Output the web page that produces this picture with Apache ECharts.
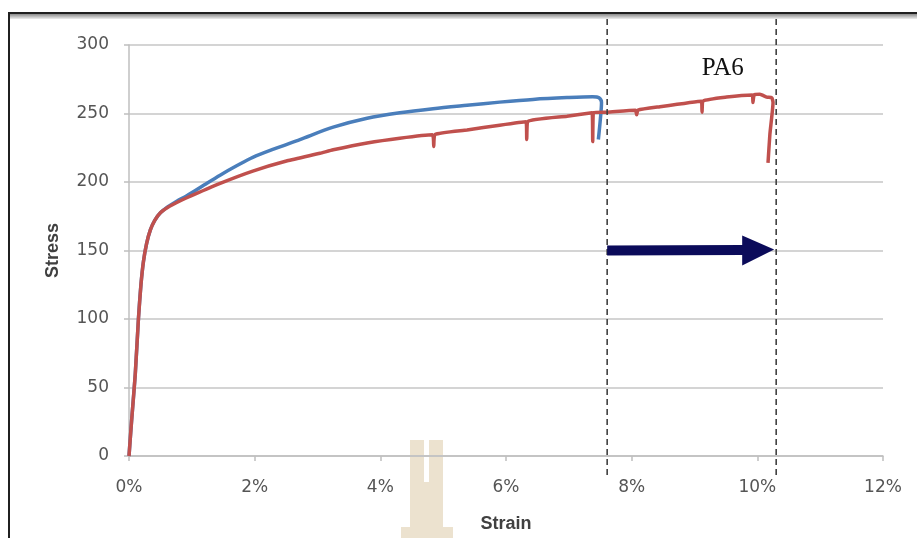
<!DOCTYPE html>
<html>
<head>
<meta charset="utf-8">
<script src="https://cdn.jsdelivr.net/npm/echarts@6/dist/echarts.min.js"></script>
<style>
html,body{margin:0;padding:0;background:#fff;}
#c{width:917px;height:538px;}
</style>
</head>
<body>
<div id="c"></div>
<script>
// ---- data (strain in %, stress) ----
var xTicks = [0, 2, 4, 6, 8, 10, 12];
var yTicks = [0, 50, 100, 150, 200, 250, 300];

var blueStrain = [0, 0.04, 0.1, 0.15, 0.19, 0.23, 0.28, 0.34, 0.41, 0.5, 0.62, 0.76, 0.92, 1.2, 1.45, 1.72, 1.97, 2.3, 2.72, 3.25, 3.79, 4.31, 4.84, 5.38, 5.9, 6.43, 6.97, 7.38, 7.48, 7.52, 7.5, 7.47];
var blueStress = [0, 25, 60, 100, 125, 142, 155, 165, 172, 177.5, 182, 186, 190, 198, 205, 212, 218, 224, 231, 240, 246.5, 250.5, 253.5, 256, 258.3, 260.3, 261.6, 262.2, 261.5, 258, 245, 231];

var redStrain = [0, 0.04, 0.1, 0.15, 0.19, 0.23, 0.28, 0.34, 0.41, 0.5, 0.62, 0.76, 0.92, 1.45, 1.97, 2.52, 3.04, 3.25, 3.79, 4.31, 4.83, 4.85, 4.87, 5.38, 5.9, 6.32, 6.33, 6.35, 6.97, 7.37, 7.38, 7.40, 7.61, 8.06, 8.08, 8.10, 8.45, 9.11, 9.12, 9.14, 9.51, 9.92, 9.93, 9.95, 10.04, 10.15, 10.23, 10.25, 10.2, 10.17];
var redStress = [0, 25, 60, 100, 125, 142, 155, 165, 172, 177.5, 181.5, 185, 188.5, 199, 208, 215.5, 221, 223.5, 228.5, 232, 234.5, 226, 234.7, 238, 241.5, 244, 231, 244.2, 248, 250.5, 229.5, 250.7, 251, 252.3, 249, 252.5, 255, 259, 251, 259.2, 262, 263.5, 258, 263.7, 264, 262, 261.5, 258, 235, 214];

var markStrain = [7.61, 10.3];   // dashed vertical guide lines
var arrowStress = 150;           // arrow level
var labelText = 'PA6';
var labelPos = [9.45, 283];

function pairs(xs, ys){ return xs.map(function(x,i){ return [x, ys[i]]; }); }

var chart = echarts.init(document.getElementById('c'), null, {renderer:'canvas'});
var tickFont = {color:'#555555', fontFamily:'DejaVu Sans', fontSize:17};

chart.setOption({
  backgroundColor:'#ffffff',
  animation:false,
  grid:{left:129, right:34, top:45, bottom:80},
  xAxis:{
    type:'value', min:xTicks[0], max:xTicks[xTicks.length-1], interval:2,
    name:'Strain', nameLocation:'middle', nameGap:59,
    nameTextStyle:{color:'#404040', fontFamily:'Liberation Sans', fontWeight:'bold', fontSize:18},
    axisLine:{show:true, onZero:false, lineStyle:{color:'#bfbfbf', width:1.5}},
    axisTick:{show:true, length:5, lineStyle:{color:'#bfbfbf', width:1.5}},
    axisLabel:Object.assign({margin:23, formatter:'{value}%'}, tickFont),
    splitLine:{show:false}
  },
  yAxis:{
    type:'value', min:yTicks[0], max:yTicks[yTicks.length-1], interval:50,
    name:'Stress', nameLocation:'middle', nameGap:67, nameRotate:90,
    nameTextStyle:{color:'#404040', fontFamily:'Liberation Sans', fontWeight:'bold', fontSize:18},
    axisLine:{show:true, lineStyle:{color:'#bfbfbf', width:1.5}},
    axisTick:{show:true, length:5, lineStyle:{color:'#bfbfbf', width:1.5}},
    axisLabel:Object.assign({margin:20}, tickFont),
    splitLine:{show:true, lineStyle:{color:'#d4d4d4', width:2}}
  },
  series:[
    {type:'line', data:pairs(blueStrain, blueStress), showSymbol:false, smooth:0.3,
     lineStyle:{color:'#4a7ebb', width:3.5}, itemStyle:{color:'#4a7ebb'}, z:3},
    {type:'line', data:pairs(redStrain, redStress), showSymbol:false, smooth:0.15,
     lineStyle:{color:'#c0504d', width:3.5}, itemStyle:{color:'#c0504d'}, z:4}
  ]
});

// annotations positioned through the chart's own scales
function px(v){ return chart.convertToPixel({xAxisIndex:0, yAxisIndex:0}, v); }
var a = px([markStrain[0], arrowStress]);
var b = px([markStrain[1], arrowStress]);
var lp = px(labelPos);
var g = [];
// watermark
var wm = '#ece2cf';
g.push({type:'rect', shape:{x:410, y:440, width:14, height:100}, style:{fill:wm}, z:-1});
g.push({type:'rect', shape:{x:429, y:440, width:14, height:100}, style:{fill:wm}, z:-1});
g.push({type:'rect', shape:{x:424, y:482, width:5, height:60}, style:{fill:wm}, z:-1});
g.push({type:'rect', shape:{x:401, y:527, width:52, height:15}, style:{fill:wm}, z:-1});
// frame
g.push({type:'rect', shape:{x:9, y:13, width:930, height:560}, style:{fill:null, stroke:'#202020', lineWidth:2}, z:10});
g.push({type:'rect', shape:{x:10, y:14, width:920, height:5},
  style:{fill:new echarts.graphic.LinearGradient(0,0,0,1,[{offset:0,color:'#8a8a8a'},{offset:1,color:'#eeeeee'}])}, z:10});
markStrain.forEach(function(s){
  var p = px([s, 0]);
  g.push({type:'line', shape:{x1:p[0], y1:19, x2:p[0], y2:476},
    style:{stroke:'#404040', lineWidth:1.6, lineDash:[6,4]}, z:20});
});
// arrow
var headLen = 34, headHalf = 15, shaftHalf = 5;
g.push({type:'polygon', shape:{points:[
  [a[0], a[1]-shaftHalf], [b[0]-headLen, a[1]-shaftHalf-0.5], [b[0]-headLen, a[1]-headHalf],
  [b[0]-2, a[1]-1], [b[0]-headLen, a[1]+headHalf], [b[0]-headLen, a[1]+shaftHalf-0.5], [a[0], a[1]+shaftHalf]
]}, style:{fill:'#0b0b5a'}, z:21});
g.push({type:'text', x:lp[0], y:lp[1], style:{text:labelText, fill:'#111', font:'25px "Liberation Serif"', align:'center', verticalAlign:'middle'}, z:21});
chart.setOption({graphic:g});
</script>
</body>
</html>
